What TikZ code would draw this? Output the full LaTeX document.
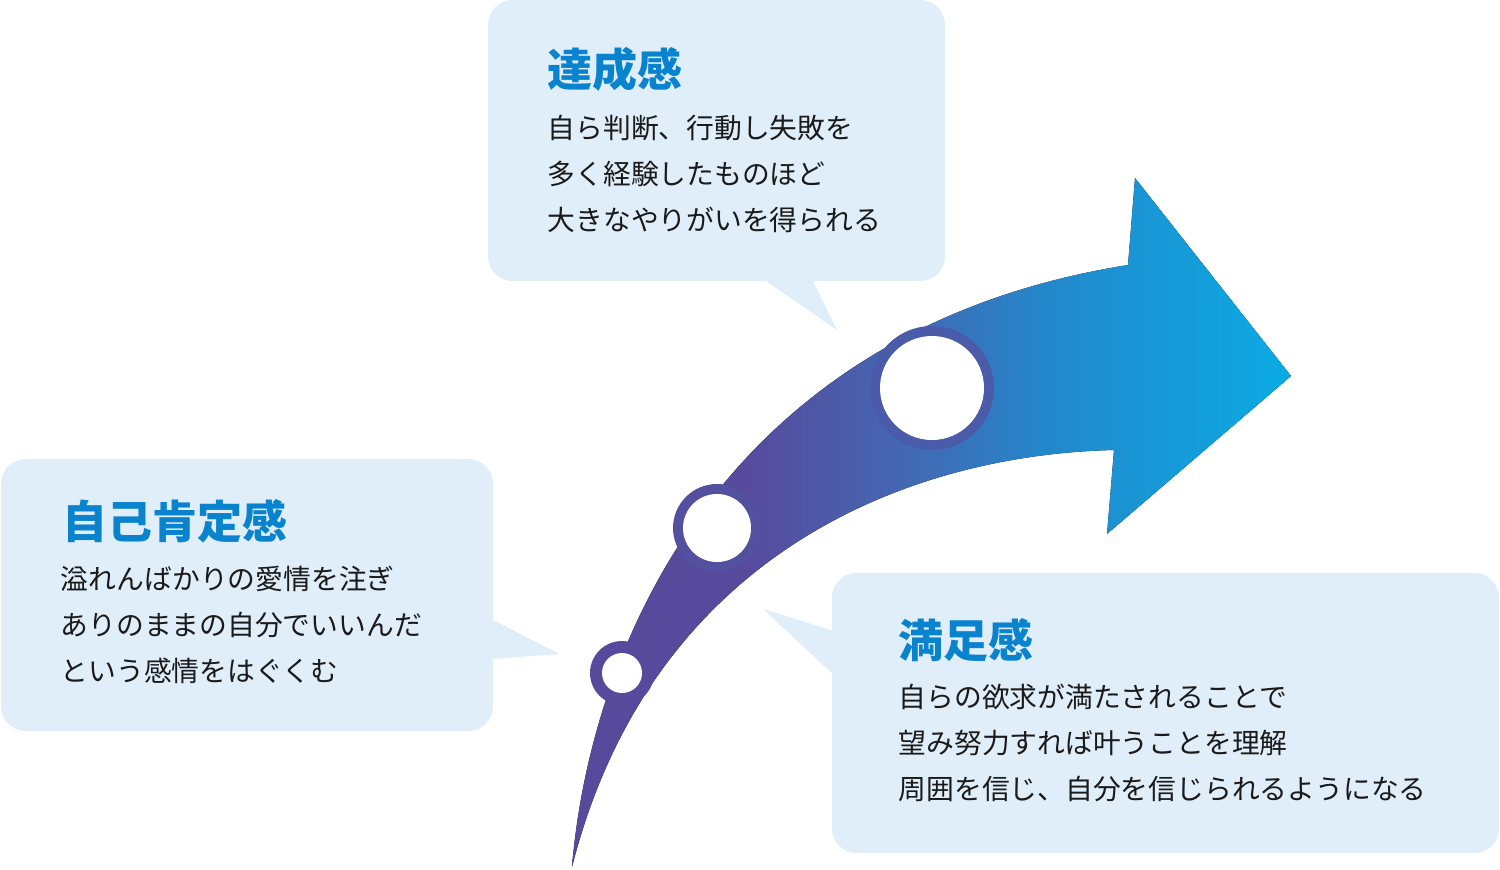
\documentclass[tikz,border=0pt]{standalone}
\usepackage{fontspec}
\setmainfont{Noto Sans CJK JP}
\usepackage{tikz}
\definecolor{bubblefill}{HTML}{DFEEF9}
\definecolor{titleblue}{HTML}{0A83CE}
\definecolor{bodyblack}{HTML}{1A1A1A}
\definecolor{arrowpurple}{HTML}{574A9D}
\definecolor{arrowmid}{HTML}{4467B2}
\definecolor{arrowblue}{HTML}{2388CB}
\definecolor{arrowcyan}{HTML}{0AABE4}
\pgfdeclarehorizontalshading{arrowshade}{100bp}{color(0bp)=(arrowpurple); color(25bp)=(arrowpurple); color(37bp)=(arrowpurple); color(48bp)=(arrowmid); color(58bp)=(arrowblue); color(75bp)=(arrowcyan); color(100bp)=(arrowcyan)}
\tikzset{
	bubble/.style={fill=bubblefill},
	titletxt/.style={anchor=west, inner sep=0pt, text=titleblue, font=\fontsize{12.8}{15}\selectfont\bfseries},
	bodytxt/.style={anchor=west, inner sep=0pt, align=left, text=bodyblack, font=\fontsize{7.9}{13.1}\selectfont}
}
\begin{document}
\begin{tikzpicture}[x=0.01cm, y=-0.01cm]
		\useasboundingbox (0,0) rectangle (1500,869);
		\begin{scope}
				\fill[bubble, rounded corners=7pt] (488,0) rectangle (945,281);
				\fill[bubble] (763,279) -- (837,330) -- (812,279) -- cycle;
				\fill[bubble, rounded corners=7pt] (1,459) rectangle (493,731);
				\fill[bubble] (491,619) -- (560,654) -- (491,659) -- cycle;
				\fill[bubble, rounded corners=7pt] (832,573) rectangle (1499,853);
				\fill[bubble] (834,631) -- (763,609) -- (834,675) -- cycle;
		\end{scope}
		\begin{scope}
				\fill[shading=arrowshade] (572,867) .. controls (590,650) and (720,330) .. (1128,265) -- (1135,178) -- (1291,376) -- (1107,534) -- (1114,450) .. controls (900,455) and (650,560) .. (572,867) -- cycle;
				\foreach \cx/\cy/\r/\R/\c in
				{
						622/673/20/32/574A9D,
						717/528/34/44/5450A0,
						932/388/52/62/4A5CA9
				}
				{
				\definecolor{ringcolor}{HTML}{\c}
				\fill[ringcolor] (\cx,\cy) circle[radius=\R];
				\fill[white] (\cx,\cy) circle[radius=\r];
				}
		\end{scope}
		\node[titletxt] (tassei) at (547,69) {達成感};
		\node[bodytxt] (tasseitxt) at (547,174) {自ら判断、行動し失敗を\\多く経験したものほど\\大きなやりがいを得られる};
		\node[titletxt] (jiko) at (62,521) {自己肯定感};
		\node[bodytxt] (jikotxt) at (60,625) {溢れんばかりの愛情を注ぎ\\ありのままの自分でいいんだ\\という感情をはぐくむ};
		\node[titletxt] (manzoku) at (898,640) {満足感};
		\node[bodytxt] (manzokutxt) at (898,743) {自らの欲求が満たされることで\\望み努力すれば叶うことを理解\\周囲を信じ、自分を信じられるようになる};
\end{tikzpicture}
\end{document}
